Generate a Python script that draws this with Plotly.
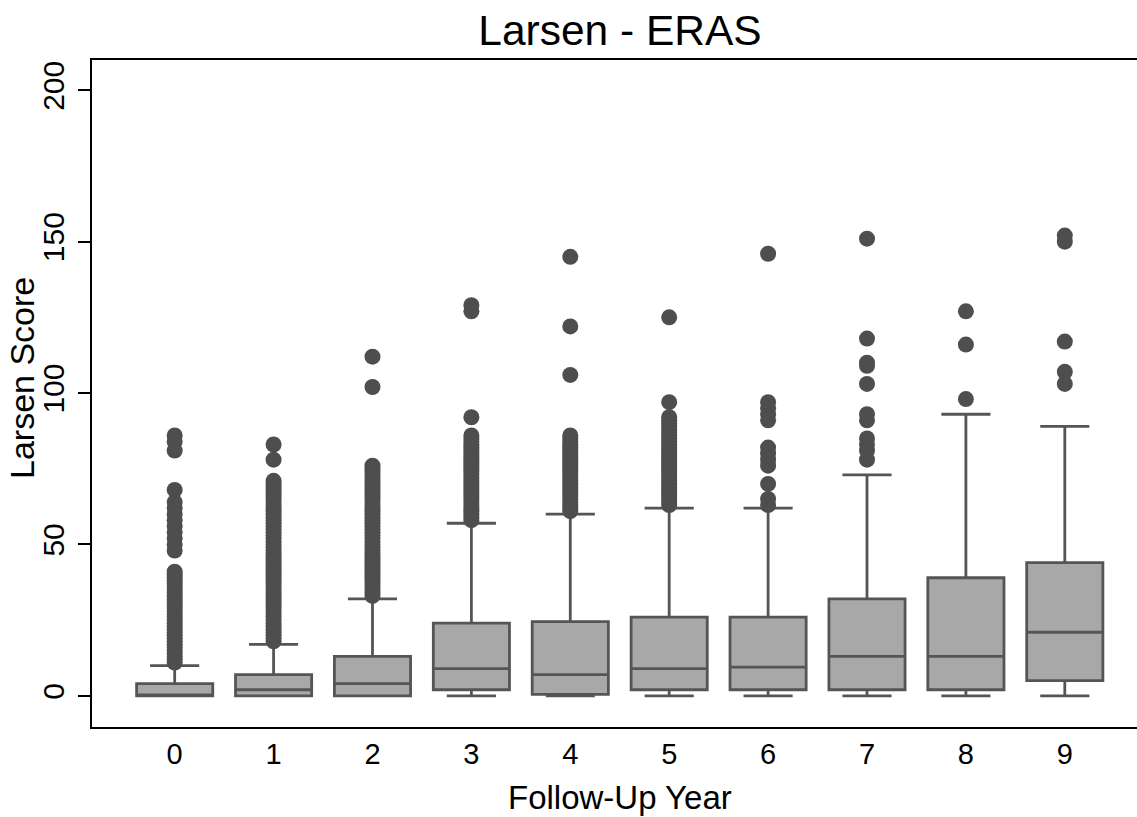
import plotly.graph_objects as go

years = [0, 1, 2, 3, 4, 5, 6, 7, 8, 9]
q1 = [0, 0, 0, 2, 0.5, 2, 2, 2, 2, 5]
median = [0, 2, 4, 9, 7, 9, 9.5, 13, 13, 21]
q3 = [4, 7, 13, 24, 24.5, 26, 26, 32, 39, 44]
lower_whisker = [0, 0, 0, 0, 0, 0, 0, 0, 0, 0]
upper_whisker = [10, 17, 32, 57, 60, 62, 62, 73, 93, 89]

outliers = {
    0: [86, 84, 81, 68, 64, 62, 60, 58, 56, 54, 52, 50, 48,
        41, 40, 39, 38, 37, 36, 35, 34, 33, 32, 31, 30, 29, 28, 27, 26,
        25, 24, 23, 22, 21, 20, 19, 18, 17, 16, 15, 14, 13, 12, 11],
    1: [83, 78, 71, 70, 69, 68, 67, 66, 65, 64, 63, 62, 61, 60, 59, 58, 57,
        56, 55, 54, 53, 52, 51, 50, 49, 48, 47, 46, 45, 44, 43, 42, 41, 40,
        39, 38, 37, 36, 35, 34, 33, 32, 31, 30, 29, 28, 27, 26, 25, 24, 23,
        22, 21, 20, 19, 18],
    2: [112, 102, 76, 75, 74, 73, 72, 71, 70, 69, 68, 67, 66, 65, 64, 63,
        62, 61, 60, 59, 58, 57, 56, 55, 54, 53, 52, 51, 50, 49, 48, 47, 46,
        45, 44, 43, 42, 41, 40, 39, 38, 37, 36, 35, 34, 33],
    3: [129, 127, 92, 86, 85, 84, 83, 82, 81, 80, 79, 78, 77, 76, 75, 74,
        73, 72, 71, 70, 69, 68, 67, 66, 65, 64, 63, 62, 61, 60, 59, 58],
    4: [145, 122, 106, 86, 85, 84, 83, 82, 81, 80, 79, 78, 77, 76, 75, 74,
        73, 72, 71, 70, 69, 68, 67, 66, 65, 64, 63, 62, 61],
    5: [125, 97, 92, 91, 90, 89, 88, 87, 86, 85, 84, 83, 82, 81, 80, 79, 78,
        77, 76, 75, 74, 73, 72, 71, 70, 69, 68, 67, 66, 65, 64, 63],
    6: [146, 97, 95, 93, 91, 82, 80, 78, 76, 70, 65, 63],
    7: [151, 118, 110, 109, 103, 93, 91, 85, 83, 81, 78],
    8: [127, 116, 98],
    9: [152, 150, 117, 107, 103],
}

out_x = [yr for yr in years for _ in outliers[yr]]
out_y = [v for yr in years for v in outliers[yr]]

FONT = "Liberation Sans, Arial, Helvetica, sans-serif"
W, H = 1137, 817

fig = go.Figure()
fig.add_trace(go.Scatter(
    x=out_x, y=out_y, mode="markers",
    marker=dict(size=16, color="#4e4e4e", line=dict(width=0)),
    showlegend=False, hoverinfo="y",
))
fig.add_trace(go.Box(
    x=years, q1=q1, median=median, q3=q3,
    lowerfence=lower_whisker, upperfence=upper_whisker,
    boxpoints=False, width=0.77, whiskerwidth=0.645,
    fillcolor="#a8a8a8", line=dict(color="#555555", width=2.8),
    showlegend=False,
))

fig.update_layout(
    width=W, height=H,
    margin=dict(l=92, r=0, t=60, b=90),
    paper_bgcolor="white", plot_bgcolor="white",
    font=dict(family=FONT, color="black"),
    title=dict(text="Larsen - ERAS", font=dict(size=42.5, family=FONT, color="black"),
               x=620 / W, xanchor="center", y=1 - 30 / H, yanchor="middle"),
    xaxis=dict(
        range=[-0.836, 9.73], tickmode="array", tickvals=years,
        ticktext=[str(y) for y in years], ticks="", showgrid=False,
        zeroline=False, showline=True, linecolor="black", linewidth=2,
        mirror=True, tickfont=dict(size=29), ticklabelstandoff=0,
    ),
    yaxis=dict(
        range=[-10.3, 210], tickmode="array", tickvals=[0, 50, 100, 150, 200],
        ticks="outside", ticklen=12, tickwidth=2, tickcolor="black",
        showgrid=False, zeroline=False, showline=True, linecolor="black",
        linewidth=2, tickangle=-90, tickfont=dict(size=30), ticklabelstandoff=2,
    ),
    annotations=[
        dict(text="Follow-Up Year", xref="paper", yref="paper",
             x=(620 - 92) / (W - 92), y=-(797 - 727) / (727 - 60),
             xanchor="center", yanchor="middle", showarrow=False,
             font=dict(size=33, family=FONT, color="black")),
        dict(text="Larsen Score", xref="paper", yref="paper",
             x=-(92 - 22) / (W - 92), y=(727 - 378) / (727 - 60),
             xanchor="center", yanchor="middle", showarrow=False, textangle=-90,
             font=dict(size=34, family=FONT, color="black")),
    ],
)

fig.write_html("out.html")
